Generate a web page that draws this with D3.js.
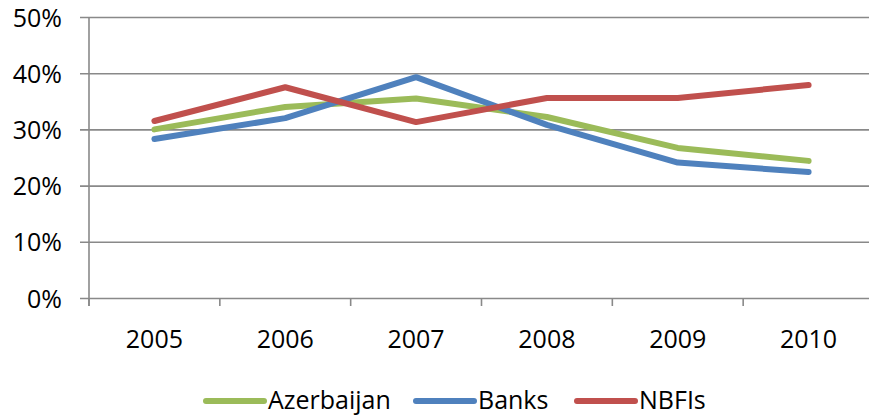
<!DOCTYPE html>
<html>
<head>
<meta charset="utf-8">
<script src="https://cdn.jsdelivr.net/npm/d3@7"></script>
<style>
  body { margin: 0; background: #fff; }
  svg text { font-family: "Open Sans", "Noto Sans", sans-serif; fill: #000; }
</style>
</head>
<body>
<svg id="chart" width="869" height="416"></svg>
<script>
// chart data
const years = ['2005', '2006', '2007', '2008', '2009', '2010'];
const azerbaijan = [0.300, 0.340, 0.355, 0.322, 0.267, 0.244];
const banks = [0.283, 0.320, 0.393, 0.308, 0.241, 0.224];
const nbfis = [0.315, 0.375, 0.313, 0.356, 0.356, 0.379];
const yTicks = [0, 0.1, 0.2, 0.3, 0.4, 0.5];
const seriesNames = ['Azerbaijan', 'Banks', 'NBFIs'];
const seriesColors = ['#9BBB59', '#4F81BD', '#C0504D'];

const svg = d3.select('svg#chart');
const plotLeft = 89, plotRight = 874, plotTop = 17, plotBottom = 298;

let x = d3.scaleBand().domain(years).range([plotLeft, plotRight]).padding(0);
let y = d3.scaleLinear().domain([0, 0.5]).range([plotBottom, plotTop]);

// gridlines + y axis labels
let yAxis = svg.append('g').attr('transform', 'translate(' + plotLeft + ',0)')
    .call(d3.axisLeft(y).tickValues(yTicks).tickFormat(d3.format('.0%'))
        .tickSize(-(plotRight - plotLeft)).tickSizeOuter(0).tickPadding(27));
yAxis.select('.domain').remove();
yAxis.selectAll('.tick line').attr('x1', -9).attr('stroke', '#898989').attr('stroke-width', 1.6);
yAxis.selectAll('.tick text').attr('font-size', 25).attr('dy', '0.36em');

// y axis line
svg.append('line')
    .attr('x1', plotLeft).attr('x2', plotLeft)
    .attr('y1', plotTop).attr('y2', plotBottom + 8)
    .attr('stroke', '#898989').attr('stroke-width', 1.6);

// x axis ticks at band edges
let edges = years.map(d => x(d)).concat([plotRight]);
svg.selectAll('line.xtick').data(edges).enter().append('line')
    .attr('class', 'xtick')
    .attr('x1', d => d).attr('x2', d => d)
    .attr('y1', plotBottom).attr('y2', plotBottom + 8)
    .attr('stroke', '#898989').attr('stroke-width', 1.6);

// x labels
svg.selectAll('text.xlab').data(years).enter().append('text')
    .attr('class', 'xlab')
    .attr('x', d => x(d) + x.bandwidth() / 2)
    .attr('y', 348)
    .attr('text-anchor', 'middle')
    .attr('font-size', 25)
    .text(d => d);

// lines
let allSeries = [azerbaijan, banks, nbfis];
let line = d3.line()
    .x((d, i) => x(years[i]) + x.bandwidth() / 2)
    .y(d => y(d));
for (let s = 0; s < allSeries.length; s++) {
    svg.append('path')
        .datum(allSeries[s])
        .attr('d', line)
        .attr('fill', 'none')
        .attr('stroke', seriesColors[s])
        .attr('stroke-width', 6)
        .attr('stroke-linecap', 'round')
        .attr('stroke-linejoin', 'round');
}

// legend
let legendX = [206, 416, 577];
for (let s = 0; s < seriesNames.length; s++) {
    svg.append('line')
        .attr('x1', legendX[s]).attr('x2', legendX[s] + 58)
        .attr('y1', 401).attr('y2', 401)
        .attr('stroke', seriesColors[s])
        .attr('stroke-width', 6)
        .attr('stroke-linecap', 'round');
    svg.append('text')
        .attr('x', legendX[s] + 62)
        .attr('y', 409)
        .attr('font-size', 25)
        .text(seriesNames[s]);
}
</script>
</body>
</html>
